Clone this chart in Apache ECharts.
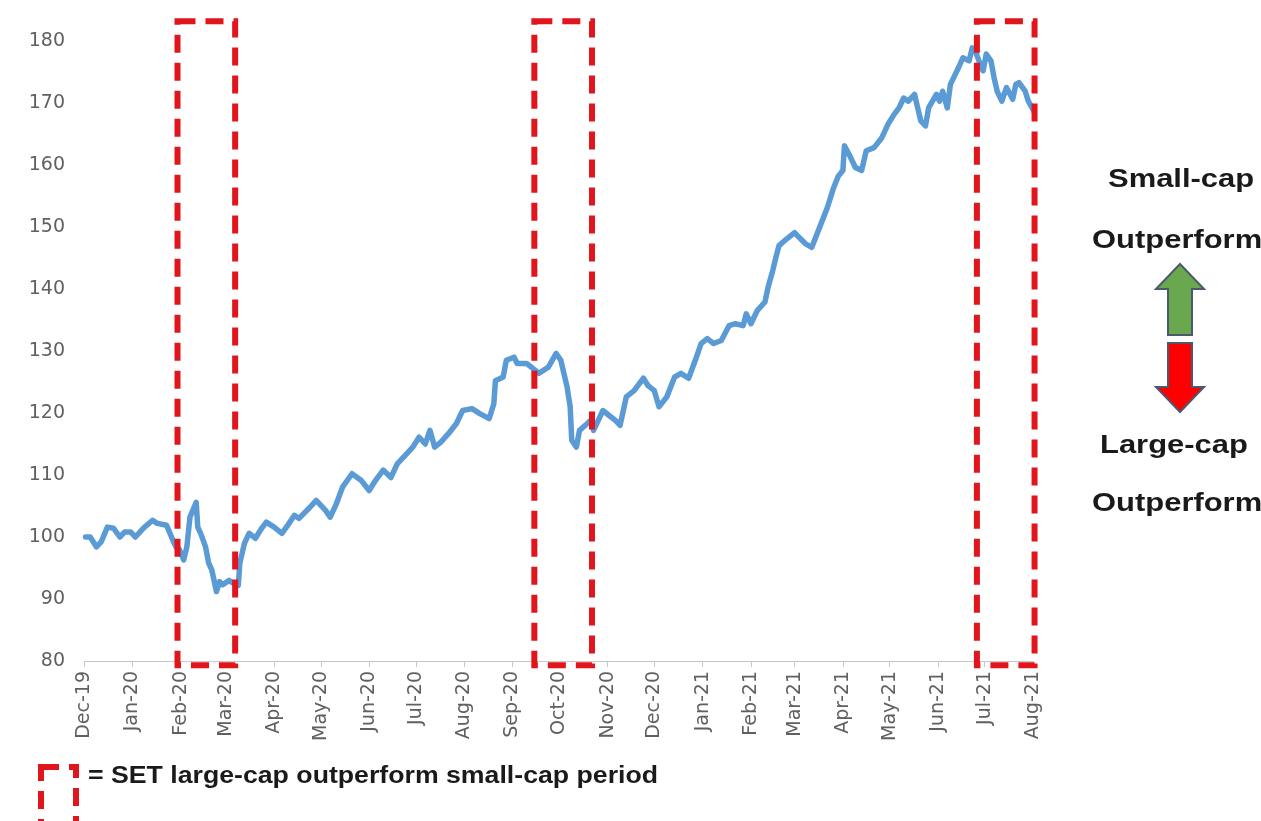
<!DOCTYPE html>
<html>
<head>
<meta charset="utf-8">
<script src="https://cdn.jsdelivr.net/npm/echarts@6/dist/echarts.min.js"></script>
<style>
  html, body { margin: 0; padding: 0; background: #ffffff; }
  #chart { width: 1261px; height: 821px; }
</style>
</head>
<body>
<div id="chart"></div>
<script>
// Relative index: SET small-cap vs SET large-cap (start = 100)
const dates = [
  '2019-12-02','2019-12-05','2019-12-09','2019-12-12','2019-12-16','2019-12-20','2019-12-24','2019-12-27','2019-12-31',
  '2020-01-03','2020-01-08','2020-01-14','2020-01-17','2020-01-23','2020-01-27','2020-01-29','2020-01-31',
  '2020-02-03','2020-02-05','2020-02-07','2020-02-11','2020-02-12','2020-02-14','2020-02-17','2020-02-19','2020-02-21','2020-02-24','2020-02-26','2020-02-28',
  '2020-03-03','2020-03-06','2020-03-09','2020-03-10','2020-03-13','2020-03-16','2020-03-20','2020-03-24','2020-03-27',
  '2020-04-01','2020-04-06','2020-04-10','2020-04-14','2020-04-17','2020-04-24','2020-04-28',
  '2020-05-04','2020-05-07','2020-05-11','2020-05-15','2020-05-21','2020-05-27',
  '2020-06-01','2020-06-05','2020-06-10','2020-06-15','2020-06-19','2020-06-25','2020-06-29',
  '2020-07-03','2020-07-07','2020-07-10','2020-07-13','2020-07-17','2020-07-22','2020-07-27','2020-07-31',
  '2020-08-06','2020-08-11','2020-08-17','2020-08-20','2020-08-21','2020-08-26','2020-08-28',
  '2020-09-02','2020-09-04','2020-09-10','2020-09-14','2020-09-18','2020-09-24','2020-09-29',
  '2020-10-02','2020-10-06','2020-10-08','2020-10-09','2020-10-12','2020-10-14','2020-10-19','2020-10-21','2020-10-23','2020-10-29',
  '2020-11-02','2020-11-06','2020-11-09','2020-11-13','2020-11-18','2020-11-24','2020-11-27',
  '2020-12-01','2020-12-04','2020-12-09','2020-12-14','2020-12-18','2020-12-23','2020-12-28','2020-12-31',
  '2021-01-04','2021-01-08','2021-01-13','2021-01-18','2021-01-22','2021-01-27','2021-01-29',
  '2021-02-01','2021-02-05','2021-02-10','2021-02-12','2021-02-15','2021-02-17','2021-02-19','2021-02-24',
  '2021-03-01','2021-03-04','2021-03-08','2021-03-12','2021-03-17','2021-03-22','2021-03-26','2021-03-29',
  '2021-04-01','2021-04-02','2021-04-06','2021-04-09','2021-04-13','2021-04-16','2021-04-21','2021-04-26','2021-04-30',
  '2021-05-04','2021-05-07','2021-05-10','2021-05-13','2021-05-17','2021-05-19','2021-05-21','2021-05-24','2021-05-26','2021-05-31',
  '2021-06-02','2021-06-04','2021-06-07','2021-06-09','2021-06-14','2021-06-17','2021-06-21','2021-06-23','2021-06-25','2021-06-28','2021-06-30',
  '2021-07-02','2021-07-05','2021-07-07','2021-07-09','2021-07-12','2021-07-15','2021-07-19','2021-07-21','2021-07-23','2021-07-27','2021-07-29',
  '2021-08-02'
];

const relIndex = [
  100.0, 100.0, 98.4, 99.2, 101.6, 101.4, 100.0, 100.8, 100.8,
  100.0, 101.4, 102.7, 102.2, 101.9, 99.5, 98.4, 98.1,
  96.3, 98.4, 103.2, 105.6, 101.6, 100.5, 98.4, 95.8, 94.7, 91.2, 92.8, 92.3,
  93.0, 92.5, 92.2, 95.8, 99.0, 100.6, 99.8, 101.4, 102.4,
  101.6, 100.6, 102.0, 103.5, 103.0, 104.8, 105.9,
  104.3, 103.2, 105.4, 108.1, 110.2, 109.1,
  107.5, 109.1, 110.8, 109.6, 111.8, 113.4, 114.5,
  116.1, 115.0, 117.2, 114.5, 115.3, 116.7, 118.3, 120.4,
  120.7, 119.9, 119.1, 121.5, 125.2, 125.8, 128.5,
  129.0, 128.0, 128.0, 127.2, 126.4, 127.4, 129.6,
  128.5, 124.2, 121.0, 115.6, 114.5, 117.2, 118.3, 118.8, 117.2, 120.4,
  119.6, 118.8, 118.0, 122.6, 123.6, 125.6, 124.4,
  123.6, 121.0, 122.6, 125.8, 126.4, 125.6, 129.0, 131.2,
  132.0, 131.2, 131.7, 134.1, 134.4, 134.1, 136.0,
  134.4, 136.5, 137.9, 140.3, 143.0, 145.1, 147.0, 148.1,
  149.1, 148.3, 147.3, 146.7, 149.9, 153.1, 156.3, 158.2,
  159.1, 163.1, 161.2, 159.6, 159.1, 162.3, 162.8, 164.4, 166.6,
  168.2, 169.2, 170.8, 170.3, 171.4, 169.2, 167.1, 166.3, 169.2, 171.4,
  170.3, 171.9, 169.2, 173.0, 175.6, 177.3, 176.8, 178.9, 178.4, 176.3, 175.2,
  177.9, 176.8, 174.1, 171.9, 170.3, 172.5, 170.6, 173.0, 173.3, 171.9, 170.3,
  168.5
];

// Month tick labels, one per month from Dec-19
const monthLabels = [
  'Dec-19','Jan-20','Feb-20','Mar-20','Apr-20','May-20','Jun-20','Jul-20','Aug-20','Sep-20','Oct-20',
  'Nov-20','Dec-20','Jan-21','Feb-21','Mar-21','Apr-21','May-21','Jun-21','Jul-21','Aug-21'
];

// Periods in which SET large-caps outperformed small-caps
const periodStart = ['2020-01-30', '2020-09-15', '2021-06-26'];
const periodEnd   = ['2020-03-07', '2020-10-22', '2021-08-02'];

const axisStart = '2019-12-01';
const axisEnd = '2021-08-01';

const DAY = 86400000;
const parse = s => echarts.number.parseDate(s).getTime();

const chart = echarts.init(document.getElementById('chart'), null, { renderer: 'canvas' });

const axisFont = '"DejaVu Sans", Verdana, sans-serif';
const boldFont = '"Liberation Sans", Arial, sans-serif';
const RED = '#e0161c';

chart.setOption({
  animation: false,
  backgroundColor: '#ffffff',
  grid: { left: 84, right: 228, top: 41, bottom: 160, containLabel: false },
  xAxis: {
    type: 'time',
    min: axisStart,
    max: axisEnd,
    splitNumber: 20,
    minInterval: 28 * DAY,
    maxInterval: 31 * DAY,
    axisLine: { show: true, lineStyle: { color: '#c8c8c8', width: 1 } },
    axisTick: { show: true, length: 6, lineStyle: { color: '#c8c8c8' } },
    splitLine: { show: false },
    axisLabel: {
      rotate: 90,
      margin: 10,
      color: '#606060',
      fontFamily: axisFont,
      fontSize: 19,
      hideOverlap: false,
      showMinLabel: true,
      showMaxLabel: true,
      formatter: function (value) {
        const d = new Date(value);
        const idx = (d.getFullYear() - 2019) * 12 + d.getMonth() - 11;
        return monthLabels[idx] || '';
      }
    }
  },
  yAxis: {
    type: 'value',
    min: 80,
    max: 180,
    interval: 10,
    axisLine: { show: false },
    axisTick: { show: false },
    splitLine: { show: false },
    axisLabel: {
      margin: 19,
      color: '#606060',
      fontFamily: axisFont,
      fontSize: 19
    }
  },
  series: [{
    type: 'line',
    data: dates.map((d, i) => [d, relIndex[i]]),
    showSymbol: false,
    smooth: false,
    z: 2,
    lineStyle: { color: '#5b9bd5', width: 5.5, cap: 'round', join: 'round' }
  }]
});

// Dashed boxes around the large-cap outperformance periods, plus side annotations
function buildGraphics() {
  const boxTopValue = 183.2;
  const boxBottomValue = 79.3;
  const dash = { fill: 'none', stroke: RED, lineWidth: 6, lineDash: [18, 10] };
  const items = [];

  periodStart.forEach((s, i) => {
    const p0 = chart.convertToPixel({ xAxisIndex: 0, yAxisIndex: 0 }, [parse(s), boxTopValue]);
    const p1 = chart.convertToPixel({ xAxisIndex: 0, yAxisIndex: 0 }, [parse(periodEnd[i]), boxBottomValue]);
    items.push({
      type: 'rect',
      z: 100,
      shape: { x: p0[0], y: p0[1], width: p1[0] - p0[0], height: p1[1] - p0[1] },
      style: dash
    });
  });

  // Legend swatch and caption
  items.push({
    type: 'rect', z: 100,
    shape: { x: 41, y: 767, width: 35, height: 70 },
    style: dash
  });
  items.push({
    type: 'text', z: 100, x: 88, y: 777, scaleX: 1.16,
    style: {
      text: '= SET large-cap outperform small-cap period',
      font: 'bold 23px ' + boldFont, fill: '#1a1a1a',
      textAlign: 'left', textVerticalAlign: 'middle'
    }
  });

  // Right-hand explanation
  const sideText = (t, x, y) => ({
    type: 'text', z: 100, x: x, y: y, scaleX: 1.19,
    style: {
      text: t, font: 'bold 26px ' + boldFont, fill: '#1a1a1a',
      textAlign: 'left', textVerticalAlign: 'middle'
    }
  });
  items.push(sideText('Small-cap', 1108, 180));
  items.push(sideText('Outperform', 1092, 241));
  items.push(sideText('Large-cap', 1100, 446));
  items.push(sideText('Outperform', 1092, 504));

  // Up (green) and down (red) arrows
  const cx = 1180;
  items.push({
    type: 'polygon', z: 100,
    shape: { points: [
      [cx, 264], [cx + 24, 289], [cx + 12, 289], [cx + 12, 335],
      [cx - 12, 335], [cx - 12, 289], [cx - 24, 289]
    ] },
    style: { fill: '#6aa84f', stroke: '#4a5a6e', lineWidth: 2 }
  });
  items.push({
    type: 'polygon', z: 100,
    shape: { points: [
      [cx - 12, 343], [cx + 12, 343], [cx + 12, 387], [cx + 24, 387],
      [cx, 412], [cx - 24, 387], [cx - 12, 387]
    ] },
    style: { fill: '#ff0000', stroke: '#4a5a6e', lineWidth: 2 }
  });
  return items;
}

chart.setOption({ graphic: buildGraphics() });
</script>
</body>
</html>
